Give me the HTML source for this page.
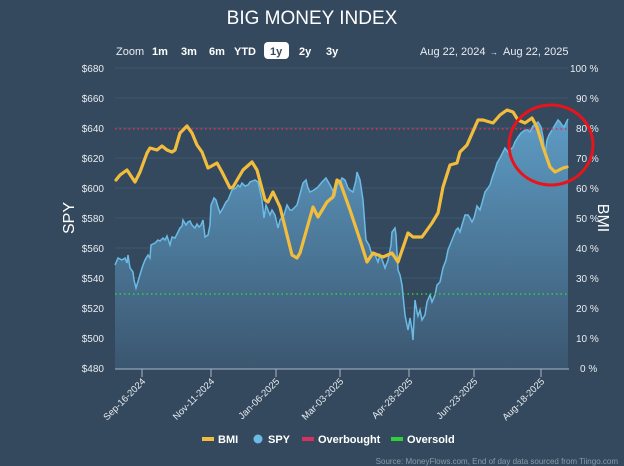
<!DOCTYPE html>
<html><head><meta charset="utf-8"><style>
body{margin:0;width:624px;height:466px;background:#34495e;overflow:hidden;font-family:"Liberation Sans",sans-serif}
</style></head><body>
<svg width="624" height="466" xmlns="http://www.w3.org/2000/svg" font-family="Liberation Sans, sans-serif" style="display:block">
<defs><linearGradient id="g" x1="0" y1="0" x2="0" y2="1"><stop offset="0" stop-color="#5d9bc4"/><stop offset="1" stop-color="#3b566f"/></linearGradient>
<path id="spy" fill="none" d="M115,265 L118,258 122,260 125,258 127,263 128,255 130,268 133,272 134,280 136,288 139,278 142,268 145,260 148,255 150,258 151,245 155,243 158,240 160,241 163,238 165,240 167,236 170,245 172,237 175,238 178,232 180,228 182,226 183,220 186,225 188,222 190,221 192,225 195,228 197,224 199,227 201,225 203,220 205,237 208,235 210,225 211,205 214,198 216,200 218,207 220,213 223,208 226,202 228,200 232,190 236,188 238,185 240,187 242,183 245,186 248,185 250,182 255,180 258,182 262,200 264,218 266,205 268,210 270,215 272,210 275,215 278,228 280,220 284,215 287,205 290,210 292,210 297,205 303,183 306,180 308,188 310,192 314,190 318,187 322,182 326,178 330,185 335,195 337,185 340,182 342,178 345,180 348,188 350,190 353,192 356,180 357,172 360,180 363,200 366,240 369,245 372,255 375,255 378,262 380,255 383,262 385,268 388,260 391,245 392,232 395,228 396,235 398,270 400,275 402,285 405,315 408,330 410,318 412,330 413,340 415,300 417,312 418,316 420,310 422,320 425,315 427,302 430,295 432,302 435,295 437,285 440,282 443,268 446,260 448,250 450,245 452,240 454,235 456,230 458,228 460,232 462,225 465,215 468,215 470,218 472,222 474,218 477,206 480,210 482,203 485,192 488,188 490,185 493,175 495,170 497,163 500,158 503,152 505,148 508,152 510,150 513,147 515,142 518,137 521,133 525,130 528,130 530,132 533,126 538,122 541,127 543,137 545,155 547,140 549,135 552,130 555,125 558,120 560,122 562,125 564,127 566,123 568,119"/>
</defs>
<rect width="624" height="466" fill="#34495e"/>
<text x="312" y="24" fill="#fff" font-size="19" text-anchor="middle">BIG MONEY INDEX</text>
<g font-size="11" fill="#fff">
<text x="116" y="55" fill="#e8edf2">Zoom</text>
<text x="152" y="55" font-weight="bold">1m</text>
<text x="181" y="55" font-weight="bold">3m</text>
<text x="209" y="55" font-weight="bold">6m</text>
<text x="234" y="55" font-weight="bold">YTD</text>
<rect x="264" y="42" width="25" height="17" rx="4" fill="#fff"/>
<text x="270" y="55" font-weight="bold" fill="#34495e">1y</text>
<text x="299" y="55" font-weight="bold">2y</text>
<text x="326" y="55" font-weight="bold">3y</text>
<text x="420" y="55" fill="#e8edf2">Aug 22, 2024</text>
<text x="490" y="55" fill="#e8edf2" font-size="8">→</text>
<text x="503" y="55" fill="#e8edf2">Aug 22, 2025</text>
</g>
<g stroke="#3f566d" stroke-width="1">
<line x1="115" y1="68" x2="568" y2="68"/><line x1="115" y1="98" x2="568" y2="98"/><line x1="115" y1="128" x2="568" y2="128"/><line x1="115" y1="158" x2="568" y2="158"/><line x1="115" y1="188" x2="568" y2="188"/><line x1="115" y1="218" x2="568" y2="218"/><line x1="115" y1="248" x2="568" y2="248"/><line x1="115" y1="278" x2="568" y2="278"/><line x1="115" y1="308" x2="568" y2="308"/><line x1="115" y1="338" x2="568" y2="338"/>
</g>
<g font-size="10" fill="#e8edf2" text-anchor="end">
<text x="104" y="72">$680</text><text x="104" y="102">$660</text><text x="104" y="132">$640</text><text x="104" y="162">$620</text><text x="104" y="192">$600</text><text x="104" y="222">$580</text><text x="104" y="252">$560</text><text x="104" y="282">$540</text><text x="104" y="312">$520</text><text x="104" y="342">$500</text><text x="104" y="372">$480</text>
</g>
<g font-size="10" fill="#e8edf2">
<text x="570" y="72">100 %</text><text x="576" y="102">90 %</text><text x="576" y="132">80 %</text><text x="576" y="162">70 %</text><text x="576" y="192">60 %</text><text x="576" y="222">50 %</text><text x="576" y="252">40 %</text><text x="576" y="282">30 %</text><text x="576" y="312">20 %</text><text x="576" y="342">10 %</text><text x="580" y="372">0 %</text>
</g>
<text transform="translate(74,218) rotate(-90)" fill="#fff" font-size="16" text-anchor="middle">SPY</text>
<text transform="translate(598,218) rotate(90)" fill="#fff" font-size="16" text-anchor="middle">BMI</text>
<path d="M115,265 L118,258 122,260 125,258 127,263 128,255 130,268 133,272 134,280 136,288 139,278 142,268 145,260 148,255 150,258 151,245 155,243 158,240 160,241 163,238 165,240 167,236 170,245 172,237 175,238 178,232 180,228 182,226 183,220 186,225 188,222 190,221 192,225 195,228 197,224 199,227 201,225 203,220 205,237 208,235 210,225 211,205 214,198 216,200 218,207 220,213 223,208 226,202 228,200 232,190 236,188 238,185 240,187 242,183 245,186 248,185 250,182 255,180 258,182 262,200 264,218 266,205 268,210 270,215 272,210 275,215 278,228 280,220 284,215 287,205 290,210 292,210 297,205 303,183 306,180 308,188 310,192 314,190 318,187 322,182 326,178 330,185 335,195 337,185 340,182 342,178 345,180 348,188 350,190 353,192 356,180 357,172 360,180 363,200 366,240 369,245 372,255 375,255 378,262 380,255 383,262 385,268 388,260 391,245 392,232 395,228 396,235 398,270 400,275 402,285 405,315 408,330 410,318 412,330 413,340 415,300 417,312 418,316 420,310 422,320 425,315 427,302 430,295 432,302 435,295 437,285 440,282 443,268 446,260 448,250 450,245 452,240 454,235 456,230 458,228 460,232 462,225 465,215 468,215 470,218 472,222 474,218 477,206 480,210 482,203 485,192 488,188 490,185 493,175 495,170 497,163 500,158 503,152 505,148 508,152 510,150 513,147 515,142 518,137 521,133 525,130 528,130 530,132 533,126 538,122 541,127 543,137 545,155 547,140 549,135 552,130 555,125 558,120 560,122 562,125 564,127 566,123 568,119 L568,369 L115,369 Z" fill="url(#g)"/>
<use href="#spy" fill="none" stroke="#6bbbe6" stroke-width="1.5"/>
<line x1="115" y1="129" x2="568" y2="129" stroke="#d9315f" stroke-width="1.5" stroke-dasharray="1.5 3"/>
<line x1="115" y1="294" x2="568" y2="294" stroke="#2fd13a" stroke-width="1.5" stroke-dasharray="1.5 3"/>
<path d="M116,180 L120,175 127,170 135,182 140,172 147,153 150,148 157,150 162,146 167,150 172,152 175,150 180,133 187,126 192,133 197,145 202,152 208,168 217,163 222,172 230,188 233,187 243,170 252,162 257,170 265,200 268,202 273,192 280,207 292,255 297,258 300,253 313,207 318,217 327,202 333,197 337,180 340,182 350,210 360,240 367,262 373,253 383,257 392,253 398,262 408,233 413,237 422,237 432,223 438,213 443,187 450,165 457,163 460,152 467,145 478,120 483,120 493,123 500,115 507,110 513,112 518,120 525,123 532,118 537,127 543,147 550,167 555,172 563,168 567,167" fill="none" stroke="#f2bd3c" stroke-width="3.2" stroke-linejoin="round" stroke-linecap="round"/>
<ellipse cx="551" cy="145" rx="42" ry="40" fill="none" stroke="#e8141b" stroke-width="3"/>
<line x1="115" y1="369" x2="569" y2="369" stroke="#a8b8c8" stroke-width="1"/>
<g stroke="#a8b8c8"><line x1="142" y1="369" x2="142" y2="377"/><line x1="211" y1="369" x2="211" y2="377"/><line x1="276" y1="369" x2="276" y2="377"/><line x1="340" y1="369" x2="340" y2="377"/><line x1="409" y1="369" x2="409" y2="377"/><line x1="474" y1="369" x2="474" y2="377"/><line x1="541" y1="369" x2="541" y2="377"/></g>
<g font-size="9.5" fill="#e8edf2" text-anchor="end">
<text transform="translate(146,382) rotate(-45)">Sep-16-2024</text>
<text transform="translate(215,382) rotate(-45)">Nov-11-2024</text>
<text transform="translate(280,382) rotate(-45)">Jan-06-2025</text>
<text transform="translate(344,382) rotate(-45)">Mar-03-2025</text>
<text transform="translate(413,382) rotate(-45)">Apr-28-2025</text>
<text transform="translate(478,382) rotate(-45)">Jun-23-2025</text>
<text transform="translate(545,382) rotate(-45)">Aug-18-2025</text>
</g>
<g font-size="11" font-weight="bold" fill="#fff">
<rect x="202" y="437" width="12" height="4" fill="#f2bd3c"/><text x="218" y="443">BMI</text>
<circle cx="258" cy="439" r="4.5" fill="#6bbbe6"/><text x="268" y="443">SPY</text>
<rect x="302" y="437" width="12" height="4" fill="#d9315f"/><text x="318" y="443">Overbought</text>
<rect x="391" y="437" width="12" height="4" fill="#2fd13a"/><text x="407" y="443">Oversold</text>
</g>
<text x="618" y="464" font-size="8" fill="#8a9aaa" text-anchor="end">Source: MoneyFlows.com, End of day data sourced from Tiingo.com</text>
</svg>
</body></html>
